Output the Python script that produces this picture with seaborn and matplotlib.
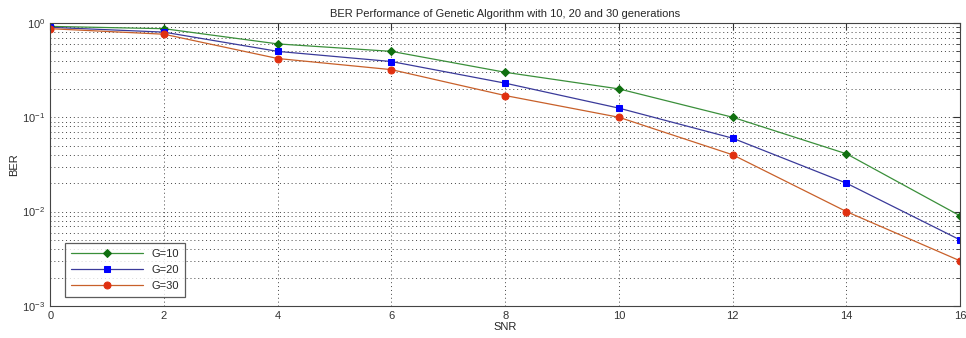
import matplotlib
matplotlib.use("Agg")
import matplotlib.pyplot as plt
import seaborn as sns
import pandas as pd
import numpy as np
from matplotlib.ticker import LogLocator, FixedLocator

snr = [0, 2, 4, 6, 8, 10, 12, 14, 16]
ber_g10 = [0.92, 0.87, 0.60, 0.50, 0.30, 0.20, 0.10, 0.041, 0.009]
ber_g20 = [0.90, 0.80, 0.50, 0.39, 0.23, 0.125, 0.060, 0.020, 0.005]
ber_g30 = [0.87, 0.76, 0.42, 0.32, 0.17, 0.10, 0.040, 0.010, 0.003]
series_names = ["G=10", "G=20", "G=30"]
title = "BER Performance of Genetic Algorithm with 10, 20 and 30 generations"

sns.set_style("white")
plt.rcParams['font.family'] = ['Liberation Sans', 'DejaVu Sans']
plt.rcParams['mathtext.fontset'] = 'custom'
plt.rcParams['mathtext.rm'] = 'Liberation Sans'

df = pd.DataFrame({
    "SNR": snr * 3,
    "BER": ber_g10 + ber_g20 + ber_g30,
    "G": [series_names[0]] * 9 + [series_names[1]] * 9 + [series_names[2]] * 9,
})

fig = plt.figure(figsize=(9.66, 3.38), dpi=100)
ax = fig.add_axes([0.052, 0.095, 0.942, 0.837])

line_colors = ["#3a8f3a", "#3a3a9a", "#c8602a"]
marker_faces = ["#107010", "#0000ff", "#e03010"]
markers = ["D", "s", "o"]
msizes = [4, 5, 5]

for i, name in enumerate(series_names):
    sub = df[df["G"] == name]
    sns.lineplot(data=sub, x="SNR", y="BER", ax=ax, color=line_colors[i],
                 linewidth=0.9, marker=markers[i], markersize=msizes[i],
                 markerfacecolor=marker_faces[i], markeredgecolor=marker_faces[i],
                 label=name)

ax.set_yscale("log")
ax.set_xlim(0, 16)
ax.set_ylim(1e-3, 1)
ax.xaxis.set_major_locator(FixedLocator(snr))
ax.yaxis.set_major_locator(LogLocator(base=10, numticks=10))
ax.yaxis.set_minor_locator(LogLocator(base=10, subs=np.arange(2, 10), numticks=10))

ax.grid(True, which="major", axis="both", linestyle=(0, (1, 3)), color="#444444", linewidth=0.7)
ax.grid(True, which="minor", axis="y", linestyle=(0, (1, 3)), color="#444444", linewidth=0.7)

ax.tick_params(axis="both", which="both", direction="in", top=True, right=True,
               labelsize=8, colors="#333333")
ax.tick_params(axis="both", which="major", length=5)
ax.tick_params(axis="y", which="minor", length=3)
for s in ax.spines.values():
    s.set_color("#444444")
    s.set_linewidth(0.8)

ax.set_xlabel("SNR", fontsize=8, labelpad=1)
ax.set_ylabel("BER", fontsize=8, labelpad=2)
ax.set_title(title, fontsize=8, pad=4)

leg = ax.legend(loc="lower left", bbox_to_anchor=(0.014, 0.025), fontsize=8,
                frameon=True, fancybox=False, handlelength=6.5, borderpad=0.5,
                labelspacing=0.55, handletextpad=0.8, borderaxespad=0.2)
leg.get_frame().set_edgecolor("#333333")
leg.get_frame().set_linewidth(0.9)

fig.savefig("out.png", dpi=100, facecolor="white")
